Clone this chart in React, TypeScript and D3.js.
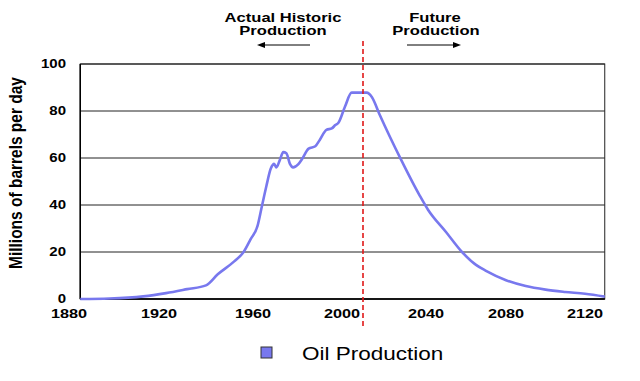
import React from "react";
import * as d3 from "d3";

// ---- data ----
const years = [1885, 1898, 1913, 1923, 1932, 1940, 1945, 1952, 1956, 1959, 1962, 1964, 1966, 1968, 1969.5, 1970.5, 1972, 1973.6, 1975, 1976.6, 1978, 1980.4, 1982, 1985, 1988, 1990, 1993, 1995.4, 1997, 1998.4, 2001.4, 2004.6, 2011.8, 2014.2, 2018, 2028, 2037, 2041, 2050, 2058, 2065, 2070, 2080, 2090, 2100, 2110, 2120, 2130];
const production = [0, 0.2, 1.1, 2.5, 4.2, 5.8, 10.5, 16, 20, 25.5, 31, 39.5, 48, 55.5, 57.5, 56, 59, 62.5, 62, 57.5, 56, 57.4, 59.5, 64, 65, 67.7, 72, 72.6, 74, 75, 81.8, 87.8, 87.8, 86, 78.3, 59.5, 44, 38, 28.5, 20, 14.5, 12, 8, 5.5, 4, 3, 2.2, 1];
const xTicks = [1880, 1920, 1960, 2000, 2040, 2080, 2120];
const yTicks = [0, 20, 40, 60, 80, 100];
const seriesName = "Oil Production";
const yTitle = "Millions of barrels per day";
const leftNote = ["Actual Historic", "Production"];
const rightNote = ["Future", "Production"];
const xStart = 1885;
const xEnd = 2130;
const dividerYear = 2010;

// ---- layout ----
const W = 640;
const H = 381;
const SX = 1.25;
const FONT = "'Liberation Sans', Arial, Helvetica, sans-serif";
const LINE = "#7878ee";

const x = d3.scaleLinear().domain(xTicks).range([69, 159, 253, 342, 426, 506, 585]);
const y = d3.scaleLinear().domain([0, 100]).range([299, 64]);

const SText = ({ x: tx, y: ty, anchor = "middle", size = 12, weight = "normal", sx = SX, children }: any) => (
  <text
    transform={`translate(${tx},${ty}) scale(${sx},1)`}
    textAnchor={anchor}
    fontSize={size}
    fontWeight={weight}
    fontFamily={FONT}
    fill="#000"
  >
    {children}
  </text>
);

export default function App() {
  const pts: [number, number][] = years.map((yr, i) => [yr, production[i]]);
  const line = d3
    .line<[number, number]>()
    .x((d) => x(d[0]))
    .y((d) => y(d[1]))
    .curve(d3.curveMonotoneX);

  const x0 = x(xStart);
  const x1 = x(xEnd);
  const xd = x(dividerYear);

  return (
    <svg
      width={W}
      height={H}
      style={{ position: "absolute", left: 0, top: 0, background: "#fff" }}
    >
      <rect x={0} y={0} width={W} height={H} fill="#fff" />
      {/* gridlines */}
      {yTicks.map((t) => (
        <line key={t} x1={x0} x2={x1} y1={y(t)} y2={y(t)} stroke="#222" strokeWidth={1} />
      ))}
      {/* frame */}
      <rect x={x0} y={y(100)} width={x1 - x0} height={y(0) - y(100)} fill="none" stroke="#222" strokeWidth={1} />
      <line x1={x0} x2={x1} y1={y(0)} y2={y(0)} stroke="#000" strokeWidth={1.5} />
      <line x1={x0} x2={x0} y1={y(100)} y2={y(0)} stroke="#000" strokeWidth={1.5} />

      {/* y tick labels */}
      {yTicks.map((t) => (
        <SText key={t} x={66} y={y(t) + 4} anchor="end" size={12} weight="bold">
          {t}
        </SText>
      ))}
      {/* x tick labels */}
      {xTicks.map((t) => (
        <SText key={t} x={x(t)} y={318} size={13} weight="bold">
          {t}
        </SText>
      ))}

      {/* y title */}
      <text
        transform={`translate(22,173) scale(1.15,1) rotate(-90)`}
        textAnchor="middle"
        fontSize={15.5}
        fontWeight="bold"
        fontFamily={FONT}
      >
        {yTitle}
      </text>

      {/* series */}
      <path d={line(pts) || ""} fill="none" stroke={LINE} strokeWidth={2.6} strokeLinejoin="round" />

      {/* divider */}
      <line x1={xd} x2={xd} y1={41} y2={326} stroke="#e01818" strokeWidth={1.6} strokeDasharray="5,3" />

      {/* annotations */}
      <SText x={283} y={22} size={12} weight="bold" sx={1.38}>{leftNote[0]}</SText>
      <SText x={283} y={35} size={12} weight="bold" sx={1.38}>{leftNote[1]}</SText>
      <SText x={435} y={22} size={12} weight="bold" sx={1.38}>{rightNote[0]}</SText>
      <SText x={436} y={35} size={12} weight="bold" sx={1.38}>{rightNote[1]}</SText>
      <line x1={262} x2={310} y1={45} y2={45} stroke="#000" strokeWidth={1} />
      <path d="M257,45 L265,42 L265,48 Z" fill="#000" />
      <line x1={407} x2={455} y1={45} y2={45} stroke="#000" strokeWidth={1} />
      <path d="M461,45 L453,42 L453,48 Z" fill="#000" />

      {/* legend */}
      <rect x={261} y={347} width={11} height={11} fill={LINE} stroke="#333" strokeWidth={1} />
      <SText x={302} y={360} anchor="start" size={18}>{seriesName}</SText>
    </svg>
  );
}
